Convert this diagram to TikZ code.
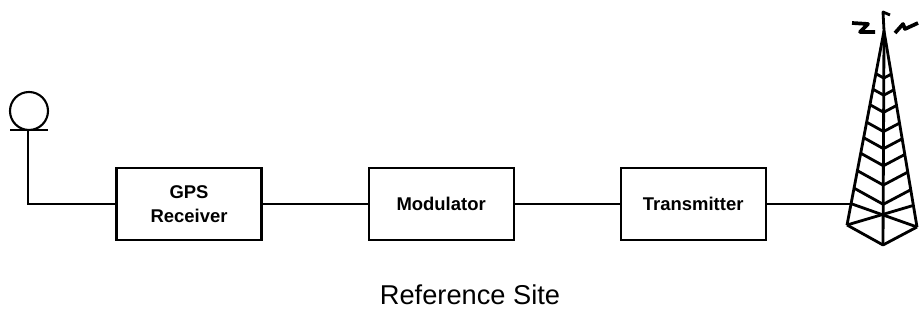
\documentclass[tikz,border=0pt]{standalone}
\usepackage{fontspec}
\setmainfont{Liberation Sans}
\usetikzlibrary{positioning,calc}

\tikzset{block/.style={draw,line width=1.2pt,minimum width=2.9cm,minimum height=1.45cm,align=center,font=\fontsize{10.5}{14}\selectfont\bfseries}}

\begin{document}
\begin{tikzpicture}[line width=1.2pt]
\useasboundingbox (0,0) rectangle (18.4,6.48);

%Bloecke
\node[block] (gps) at (3.78,2.4) {GPS\\Receiver};
\node[block,right=2.1cm of gps] (mod) {Modulator};
\node[block,right=2.1cm of mod] (tx) {Transmitter};

%Antenne
\draw (0.58,4.26) circle (0.38);
\draw (0.2,3.88) -- (0.96,3.88);
\coordinate (ant) at (0.56,3.88);

%Sendemast
\coordinate (top) at (17.68,5.86);
\coordinate (legL) at (16.94,1.98);
\coordinate (legR) at (18.34,1.94);
\coordinate (legF) at (17.66,1.58);
\coordinate (feed) at ($(top)!0.9!(legL)$);
\begin{scope}[line width=1.6pt,line join=round]
\draw (legL) -- (top) -- (legR);
\draw (top) -- (legF);
\draw (legL) -- (legF) -- (legR);
\foreach \t in {0.22,0.3,0.38,0.47,0.55,0.63,0.72,0.81}
{
	\draw ($(top)!\t!(legL)$) -- ($(top)!\t!(legF)$) -- ($(top)!\t!(legR)$);
}
\draw ($(top)!0.89!(legL)$) -- (legR);
\draw ($(top)!0.89!(legR)$) -- (legL);
\draw (top) -- (17.66,6.24) -- (17.8,6.18);
\end{scope}

%Wellen
\draw[line width=2.1pt,line join=round] (17.04,6.02) -- (17.36,6.0) -- (17.2,5.84) -- (17.5,5.84);
\draw[line width=2.1pt,line join=round] (17.9,5.82) -- (18.06,6.0) -- (18.1,5.9) -- (18.36,6.02);

%Verbindungen
\draw (ant) |- (gps.west);
\draw (gps) -- (mod);
\draw (mod) -- (tx);
\draw (tx.east) -- (tx.east -| feed);

\node[font=\fontsize{15.5}{18}\selectfont] (site) at (9.4,0.58) {Reference Site};

\end{tikzpicture}
\end{document}
